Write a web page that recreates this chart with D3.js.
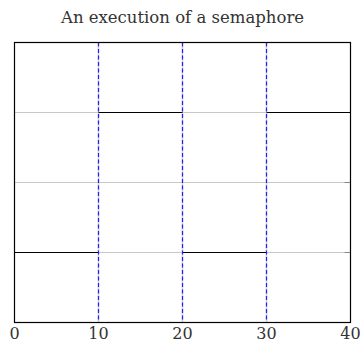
<!DOCTYPE html>
<html>
<head>
<meta charset="utf-8">
<script src="https://cdn.jsdelivr.net/npm/d3@7"></script>
<style>
  body { margin: 0; background: #fff; }
  svg { display: block; }
</style>
</head>
<body>
<div id="chart"></div>
<script>
// data
const title = "An execution of a semaphore";
const xTicks = [0, 10, 20, 30, 40];
const yGrid = [1, 2, 3];
const events = [10, 20, 30];
// semaphore state held over each interval
const segments = [
  { from: 0,  to: 10, value: 1 },
  { from: 10, to: 20, value: 3 },
  { from: 20, to: 30, value: 1 },
  { from: 30, to: 40, value: 3 }
];

const width = 361, height = 343;
const margin = { top: 42.5, right: 10.5, bottom: 20.5, left: 14.5 };
const serif = "'DejaVu Serif', 'Liberation Serif', serif";

const svg = d3.select("#chart").append("svg")
  .attr("width", width)
  .attr("height", height);

const x = d3.scaleLinear().domain([0, 40]).range([margin.left, width - margin.right]);
const y = d3.scaleLinear().domain([0, 4]).range([height - margin.bottom, margin.top]);

// title
svg.append("text")
  .attr("x", (x(0) + x(40)) / 2)
  .attr("y", 22.5)
  .attr("text-anchor", "middle")
  .style("font-family", serif)
  .style("font-size", "16.5px")
  .style("fill", "#333")
  .text(title);

// grid
svg.append("g")
  .selectAll("line")
  .data(yGrid)
  .enter().append("line")
    .attr("x1", x(0)).attr("x2", x(40))
    .attr("y1", d => y(d)).attr("y2", d => y(d))
    .attr("stroke", "#c8c8c8")
    .attr("stroke-width", 1);

svg.append("g")
  .selectAll("line")
  .data(events)
  .enter().append("line")
    .attr("x1", d => x(d)).attr("x2", d => x(d))
    .attr("y1", y(0)).attr("y2", y(4))
    .attr("stroke", "#d0d0d0")
    .attr("stroke-width", 1.5);

// small inner ticks on the right edge
svg.append("g")
  .selectAll("line")
  .data(yGrid)
  .enter().append("line")
    .attr("x1", x(40) - 6).attr("x2", x(40))
    .attr("y1", d => y(d)).attr("y2", d => y(d))
    .attr("stroke", "#888")
    .attr("stroke-width", 1);

// semaphore state
svg.append("g")
  .selectAll("line")
  .data(segments)
  .enter().append("line")
    .attr("x1", d => x(d.from)).attr("x2", d => x(d.to))
    .attr("y1", d => y(d.value)).attr("y2", d => y(d.value))
    .attr("stroke", "#000")
    .attr("stroke-width", 1.2);

// event markers
svg.append("g")
  .selectAll("line")
  .data(events)
  .enter().append("line")
    .attr("x1", d => x(d)).attr("x2", d => x(d))
    .attr("y1", y(4)).attr("y2", y(0))
    .attr("stroke", "#1f1fff")
    .attr("stroke-width", 1.2)
    .attr("stroke-dasharray", "4,2.5");

// frame
svg.append("rect")
  .attr("x", x(0)).attr("y", y(4))
  .attr("width", x(40) - x(0))
  .attr("height", y(0) - y(4))
  .attr("fill", "none")
  .attr("stroke", "#000")
  .attr("stroke-width", 1.2);

// x tick labels
svg.append("g")
  .selectAll("text")
  .data(xTicks)
  .enter().append("text")
    .attr("x", d => x(d))
    .attr("y", 339)
    .attr("text-anchor", "middle")
    .style("font-family", serif)
    .style("font-size", "16px")
    .style("fill", "#333")
    .text(d => d);
</script>
</body>
</html>
